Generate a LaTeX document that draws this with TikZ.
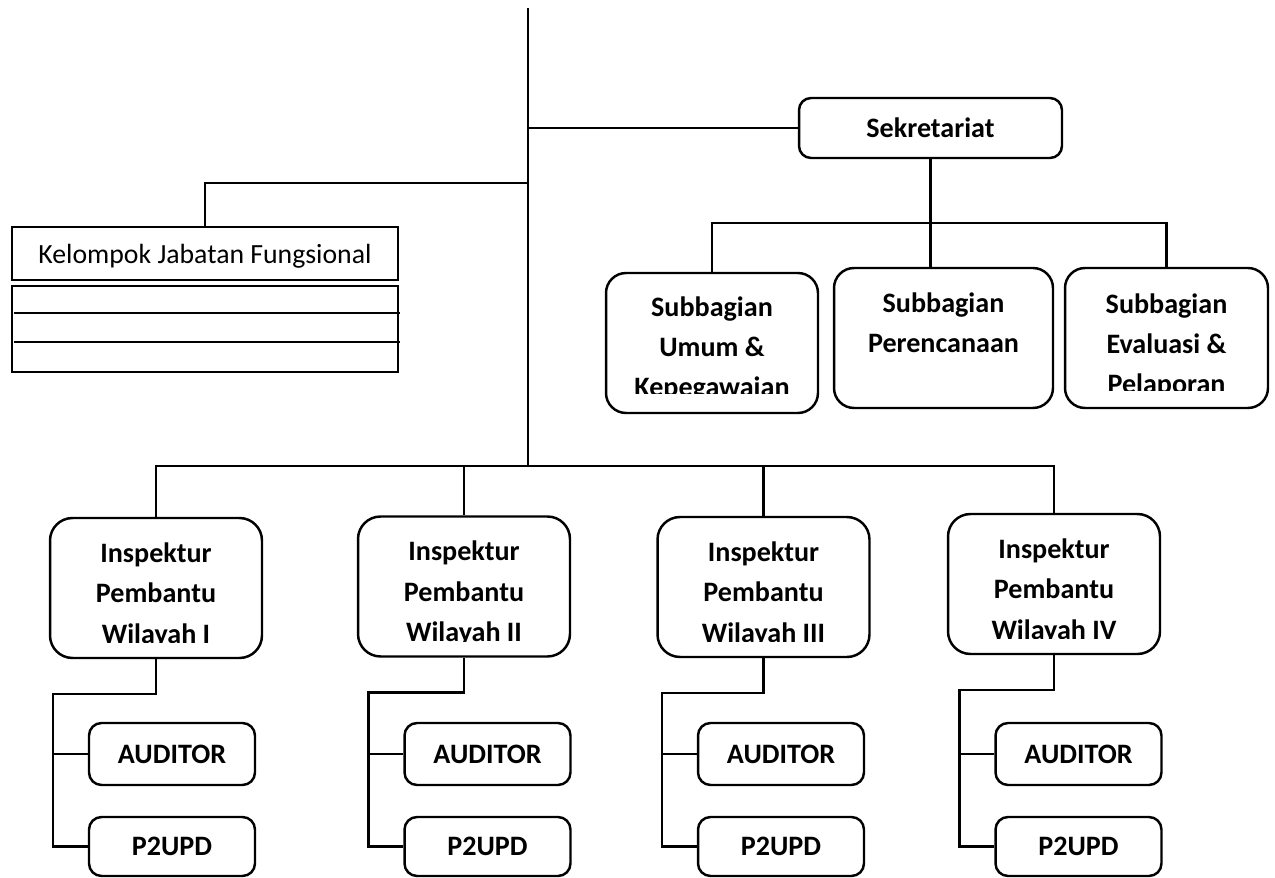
\documentclass[tikz,border=0pt]{standalone}
\usepackage{fontspec}
\setmainfont{Carlito}
\usepackage{tikz}
\usetikzlibrary{positioning}

\begin{document}
\begin{tikzpicture}[x=0.02cm,y=-0.02cm,line width=1.4pt,
  orgbox/.style={draw,rounded corners=#1,inner sep=0pt,font=\fontsize{16}{19}\selectfont\bfseries},
  boxtext/.style={font=\fontsize{16}{23}\selectfont\bfseries,align=center,anchor=base,inner sep=0pt}]
\useasboundingbox (0,0) rectangle (1275,878);

\coordinate (top) at (528,8);
\coordinate (hub) at (528,466);
\coordinate (lj) at (528,183);
\coordinate (sbar) at (932,223);

\node[orgbox=0.24cm,minimum width=5.26cm,minimum height=1.2cm] (sek) at (930.5,128) {Sekretariat};

\node[draw,inner sep=0pt,minimum width=7.72cm,minimum height=1.06cm,text depth=0pt,
  font=\fontsize{15.8}{18}\selectfont] (kjf) at (205,253.5) {Kelompok Jabatan Fungsional};
\node[draw,inner sep=0pt,minimum width=7.72cm,minimum height=1.72cm] (kjfl) at (205,329) {};
\draw (14,313) -- (400,313);
\draw (14,342) -- (400,342);

\node[orgbox=0.4cm,minimum width=4.24cm,minimum height=2.8cm] (sub1) at (712,343) {};
\node[orgbox=0.4cm,minimum width=4.38cm,minimum height=2.8cm] (sub2) at (943.5,338) {};
\node[orgbox=0.4cm,minimum width=4.06cm,minimum height=2.8cm] (sub3) at (1166.5,338) {};
\begin{scope}
\clip (606,273) rectangle (818,394);
\node[boxtext] (sub1t) at (712,397) {Subbagian\\Umum \&\\Kepegawaian};
\end{scope}
\node[boxtext] (sub2t) at (943.5,353) {Subbagian\\Perencanaan};
\begin{scope}
\clip (1065,268) rectangle (1268,391);
\node[boxtext] (sub3t) at (1166.5,394) {Subbagian\\Evaluasi \&\\Pelaporan};
\end{scope}

\draw (top) -- (hub);
\draw (sek.west) -- (sek.west -| top);
\draw (kjf.north) |- (lj);
\draw (sek.south) -- (sek.south |- sub2.north);
\draw (sub1.north) |- (sbar) -| (sub3.north);

\foreach \n/\x/\y/\ax/\w in {1/156/588/172/I,2/464/586.5/487.5/II,3/763.5/587/781/III,4/1054/584/1078.5/IV}
{
  \node[orgbox=0.45cm,minimum width=4.24cm,minimum height=2.8cm] (ins\n) at (\x,\y) {};
  \begin{scope}
  \clip (\x-110,\y-72) rectangle (\x+110,\y+54.5);
  \node[boxtext] (txt\n) at (\x,\y+55) {Inspektur\\Pembantu\\Wilayah \w};
  \end{scope}
  \node[orgbox=0.25cm,minimum width=3.32cm,minimum height=1.24cm] (aud\n) at (\ax,754) {AUDITOR};
  \node[orgbox=0.25cm,minimum width=3.32cm,minimum height=1.18cm] (pud\n) at (\ax,846.5) {P2UPD};
  \draw (hub) -| (ins\n.north);
  \draw (ins\n.south) -- ++(0,35) -| ([xshift=-0.7cm]pud\n.west) -- (pud\n.west);
  \draw (aud\n.west) -- ++(-35,0);
}
\end{tikzpicture}
\end{document}
